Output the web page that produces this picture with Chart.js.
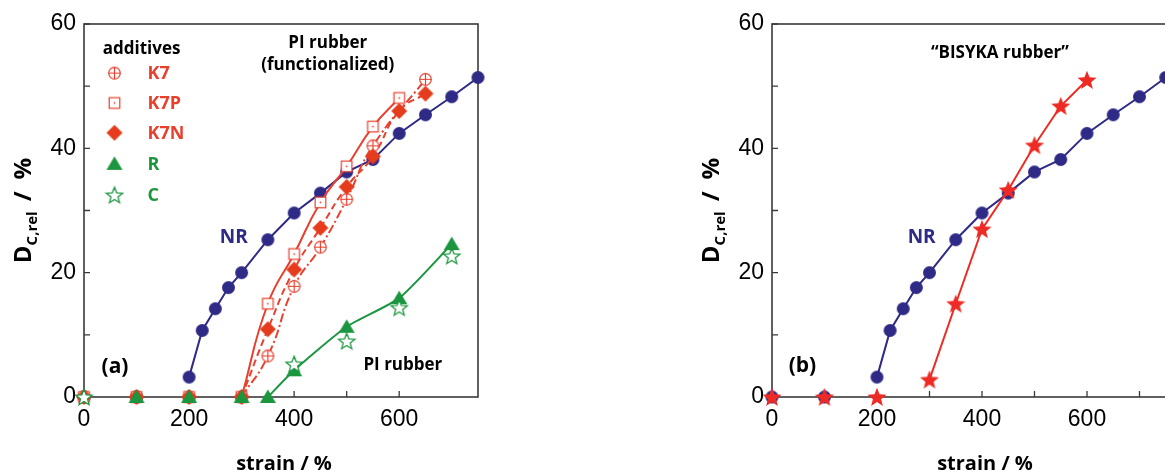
<!DOCTYPE html>
<html>
<head>
<meta charset="utf-8">
<script src="https://cdn.jsdelivr.net/npm/chart.js@4.4.1/dist/chart.umd.min.js"></script>
<style>
  html, body { margin: 0; padding: 0; background: #fff; overflow: hidden; }
  body { width: 1165px; height: 473px; position: relative; }
  canvas { position: absolute; top: 0; }
  #chart-a { left: 0; }
  #chart-b { left: 688px; }
</style>
</head>
<body>
<canvas id="chart-a" width="583" height="473"></canvas>
<canvas id="chart-b" width="583" height="473"></canvas>
<script>
// strain (%) and relative crystallinity D_C,rel (%)
const strainNR = [0, 100, 200, 225, 250, 275, 300, 350, 400, 450, 500, 550, 600, 650, 700, 750];
const dcNR     = [0, 0, 3.2, 10.7, 14.2, 17.6, 20.0, 25.3, 29.6, 32.8, 36.2, 38.2, 42.4, 45.4, 48.3, 51.4];

const strainK7 = [0, 100, 200, 300, 350, 400, 450, 500, 550, 650];
const dcK7     = [0, 0, 0, 0, 6.6, 17.8, 24.1, 31.8, 40.4, 51.1];

const strainK7P = [0, 100, 200, 300, 350, 400, 450, 500, 550, 600];
const dcK7P     = [0, 0, 0, 0, 15.0, 23.0, 31.3, 37.1, 43.5, 48.1];

const strainK7N = [0, 100, 200, 300, 350, 400, 450, 500, 550, 600, 650];
const dcK7N     = [0, 0, 0, 0, 10.9, 20.5, 27.2, 33.8, 38.7, 46.0, 48.8];

const strainR = [100, 200, 300, 350, 400, 500, 600, 700];
const dcR     = [0, 0, 0, 0, 4.3, 11.3, 15.9, 24.6];

const strainC = [0, 400, 500, 600, 700];
const dcC     = [0, 5.3, 9.0, 14.4, 22.7];

const strainBisyka = [0, 100, 200, 300, 350, 400, 450, 500, 550, 600];
const dcBisyka     = [0, 0, 0, 2.8, 15.0, 27.0, 33.3, 40.5, 46.8, 51.0];

// strain where each drawn curve starts
const onsetNR = 200, onsetRed = 300, onsetGreen = 350, onsetBisyka = 300;

const xTickLabels = [0, 200, 400, 600, 800];
const yTickLabels = [0, 20, 40, 60];

const BLUE = '#2e2a85';
const RED = '#e8402f';
const RED_FILL = '#e63c1e';
const GREEN = '#1b963f';
const FRAME = '#3a3a3a';
const NOTE_FONT = '"Open Sans", "DejaVu Sans", sans-serif';

Chart.defaults.font.family = '"Liberation Sans", Arial, sans-serif';

const pts = (xs, ys) => xs.map((x, i) => ({ x, y: ys[i] }));

function symbol(size, draw) {
    const c = document.createElement('canvas');
    c.width = size;
    c.height = size;
    const g = c.getContext('2d');
    draw(g, size / 2);
    return c;
}

function starPath(g, m, ro, ri) {
    g.beginPath();
    for (let i = 0; i < 10; i++) {
        const r = i % 2 ? ri : ro;
        const a = -Math.PI / 2 + i * Math.PI / 5;
        g.lineTo(m + r * Math.cos(a), m + r * Math.sin(a) + 0.8);
    }
    g.closePath();
}

const dotBlue = symbol(15, (g, m) => {
    g.fillStyle = BLUE;
    g.beginPath(); g.arc(m, m, 6.5, 0, Math.PI * 2); g.fill();
});
const circlePlus = symbol(15, (g, m) => {
    g.strokeStyle = RED; g.lineWidth = 1.2; g.fillStyle = '#fff';
    g.beginPath(); g.arc(m, m, 5.8, 0, Math.PI * 2); g.fill(); g.stroke();
    g.beginPath();
    g.moveTo(m - 5.8, m); g.lineTo(m + 5.8, m);
    g.moveTo(m, m - 5.8); g.lineTo(m, m + 5.8);
    g.stroke();
});
const squareDot = symbol(15, (g, m) => {
    g.strokeStyle = RED; g.lineWidth = 1.2; g.fillStyle = '#fff';
    g.fillRect(m - 5.3, m - 5.3, 10.6, 10.6);
    g.strokeRect(m - 5.3, m - 5.3, 10.6, 10.6);
    g.fillStyle = RED;
    g.fillRect(m - 0.8, m - 0.8, 1.6, 1.6);
});
const diamond = symbol(18, (g, m) => {
    g.fillStyle = RED_FILL;
    g.beginPath();
    g.moveTo(m, m - 8); g.lineTo(m + 8, m); g.lineTo(m, m + 8); g.lineTo(m - 8, m);
    g.closePath(); g.fill();
});
const triangle = symbol(18, (g, m) => {
    g.fillStyle = GREEN;
    g.beginPath();
    g.moveTo(m, m - 7.5); g.lineTo(m + 8, m + 6); g.lineTo(m - 8, m + 6);
    g.closePath(); g.fill();
});
const starOpen = symbol(20, (g, m) => {
    g.strokeStyle = GREEN; g.lineWidth = 1.3; g.fillStyle = '#fff';
    starPath(g, m, 8.5, 3.7); g.fill(); g.stroke();
});
const starRed = symbol(22, (g, m) => {
    g.fillStyle = '#ee2a24';
    starPath(g, m, 10, 4.3); g.fill();
});

function markers(data, style, order) {
    return { data, pointStyle: style, pointRadius: 6, showLine: false, order, clip: false };
}

function curve(data, color, dash, order, tension) {
    return {
        data, showLine: true, borderColor: color, borderWidth: 2, borderDash: dash,
        pointRadius: 0, order, tension: tension || 0
    };
}

function axes(xMax) {
    return {
        x: {
            type: 'linear', min: 0, max: xMax,
            border: { display: false },
            grid: { display: false, drawTicks: false },
            ticks: {
                stepSize: 100, padding: 9, color: '#000', autoSkip: false, maxRotation: 0,
                font: { size: 23 },
                callback: v => xTickLabels.includes(v) ? v : ''
            },
            afterBuildTicks: s => { s.ticks = s.ticks.filter(t => t.value % 100 === 0); },
            afterFit: s => { s.height = 76; }
        },
        y: {
            type: 'linear', min: 0, max: 60,
            border: { display: false },
            grid: { display: false, drawTicks: false },
            ticks: {
                stepSize: 10, padding: 8, color: '#000', autoSkip: false,
                font: { size: 23 },
                callback: v => yTickLabels.includes(v) ? v : ''
            },
            afterFit: s => { s.width = 84; }
        }
    };
}

function drawYTitle(ctx, cx, cy) {
    const big = 'bold 24px ' + NOTE_FONT;
    const small = 'bold 15px ' + NOTE_FONT;
    const parts = [
        { t: 'D', f: big, dy: 0, gap: 0 },
        { t: 'C,rel', f: small, dy: 6, gap: 0 },
        { t: '/', f: big, dy: 0, gap: 10 },
        { t: '%', f: big, dy: 0, gap: 12 }
    ];
    let total = 0;
    parts.forEach(p => { ctx.font = p.f; p.w = ctx.measureText(p.t).width; total += p.gap + p.w; });
    ctx.save();
    ctx.translate(cx, cy);
    ctx.rotate(-Math.PI / 2);
    ctx.fillStyle = '#000';
    ctx.textAlign = 'left';
    ctx.textBaseline = 'alphabetic';
    let pos = -total / 2;
    parts.forEach(p => {
        pos += p.gap;
        ctx.font = p.f;
        ctx.fillText(p.t, pos, 8 + p.dy);
        pos += p.w;
    });
    ctx.restore();
}

function decor(cfg) {
    return {
        id: 'decor',
        beforeDatasetsDraw(chart) {
            const { ctx, chartArea: a, scales: { x, y } } = chart;
            ctx.save();
            ctx.strokeStyle = FRAME;
            ctx.lineWidth = 1.6;
            ctx.strokeRect(a.left, a.top, a.right - a.left, a.bottom - a.top);
            ctx.beginPath();
            x.ticks.forEach(t => {
                const px = x.getPixelForValue(t.value);
                ctx.moveTo(px, a.bottom); ctx.lineTo(px, a.bottom - 6);
            });
            y.ticks.forEach(t => {
                const py = y.getPixelForValue(t.value);
                ctx.moveTo(a.left, py); ctx.lineTo(a.left + 6, py);
            });
            ctx.lineWidth = 1.3;
            ctx.stroke();
            ctx.restore();
        },
        afterDatasetsDraw(chart) {
            const { ctx, chartArea: a, scales: { x, y } } = chart;
            ctx.save();
            ctx.textBaseline = 'middle';
            cfg.notes.forEach(n => {
                ctx.font = n.font;
                ctx.fillStyle = n.color;
                ctx.textAlign = n.align || 'center';
                ctx.fillText(n.text, x.getPixelForValue(n.x), y.getPixelForValue(n.y));
            });
            (cfg.legend || []).forEach(item => {
                const sx = x.getPixelForValue(cfg.legendX);
                const sy = y.getPixelForValue(item.y);
                ctx.drawImage(item.sym, sx - item.sym.width / 2, sy - item.sym.height / 2);
                ctx.font = 'bold 18px ' + NOTE_FONT;
                ctx.fillStyle = item.color;
                ctx.textAlign = 'left';
                ctx.fillText(item.text, x.getPixelForValue(cfg.legendTextX), sy + 1);
            });
            ctx.font = 'bold 20px ' + NOTE_FONT;
            ctx.fillStyle = '#000';
            ctx.textAlign = 'center';
            ctx.textBaseline = 'alphabetic';
            ctx.fillText('strain / %', (a.left + a.right) / 2 + 3, 470);
            drawYTitle(ctx, a.left - 61, (a.top + a.bottom) / 2);
            ctx.restore();
        }
    };
}

function makeChart(id, datasets, xMax, padRight, cfg) {
    return new Chart(document.getElementById(id), {
        type: 'scatter',
        data: { datasets },
        options: {
            responsive: false,
            animation: false,
            events: [],
            layout: { padding: { top: 24, right: padRight, bottom: 0, left: 0 } },
            plugins: { legend: { display: false }, tooltip: { enabled: false } },
            scales: axes(xMax)
        },
        plugins: [decor(cfg)]
    });
}

const boldNote = size => 'bold ' + size + 'px ' + NOTE_FONT;

// panel (a)
makeChart('chart-a', [
    markers(pts(strainC, dcC), starOpen, 1),
    markers(pts(strainR, dcR), triangle, 2),
    markers(pts(strainK7N, dcK7N), diamond, 3),
    markers(pts(strainK7P, dcK7P), squareDot, 4),
    markers(pts(strainK7, dcK7), circlePlus, 5),
    curve(pts(strainK7P, dcK7P).filter(p => p.x >= onsetRed), RED, [], 6, 0.5),
    curve(pts(strainK7N, dcK7N).filter(p => p.x >= onsetRed), RED, [7, 4], 6, 0.5),
    curve(pts(strainK7, dcK7).filter(p => p.x >= onsetRed), RED, [9, 3, 2, 3], 6, 0.5),
    curve(pts(strainR, dcR).filter(p => p.x >= onsetGreen), GREEN, [], 6, 0.2),
    markers(pts(strainNR, dcNR), dotBlue, 7),
    curve(pts(strainNR, dcNR).filter(p => p.x >= onsetNR), BLUE, [], 8, 0)
], 750, 105, {
    notes: [
        { text: 'additives', x: 35.6, y: 55.9, font: boldNote(17), color: '#000', align: 'left' },
        { text: 'PI rubber', x: 464, y: 56.9, font: boldNote(17), color: '#000' },
        { text: '(functionalized)', x: 464, y: 53.4, font: boldNote(17), color: '#000' },
        { text: 'NR', x: 285, y: 25.6, font: boldNote(19), color: BLUE },
        { text: '(a)', x: 59, y: 4.9, font: boldNote(21), color: '#000' },
        { text: 'PI rubber', x: 607, y: 5.1, font: boldNote(17), color: '#000' }
    ],
    legendX: 58,
    legendTextX: 121,
    legend: [
        { sym: circlePlus, text: 'K7', color: RED, y: 52.1 },
        { sym: squareDot, text: 'K7P', color: RED, y: 47.3 },
        { sym: diamond, text: 'K7N', color: RED, y: 42.5 },
        { sym: triangle, text: 'R', color: GREEN, y: 37.5 },
        { sym: starOpen, text: 'C', color: GREEN, y: 32.5 }
    ]
});

// panel (b)
makeChart('chart-b', [
    markers(pts(strainBisyka, dcBisyka), starRed, 1),
    curve(pts(strainBisyka, dcBisyka).filter(p => p.x >= onsetBisyka), '#ee2a24', [], 2, 0),
    markers(pts(strainNR, dcNR), dotBlue, 3),
    curve(pts(strainNR, dcNR).filter(p => p.x >= onsetNR), BLUE, [], 4, 0)
], 800, 79, {
    notes: [
        { text: '\u201CBISYKA rubber\u201D', x: 434, y: 55.3, font: boldNote(17), color: '#000' },
        { text: 'NR', x: 285, y: 25.6, font: boldNote(19), color: BLUE },
        { text: '(b)', x: 58, y: 5.0, font: boldNote(21), color: '#000' }
    ]
});
</script>
</body>
</html>
